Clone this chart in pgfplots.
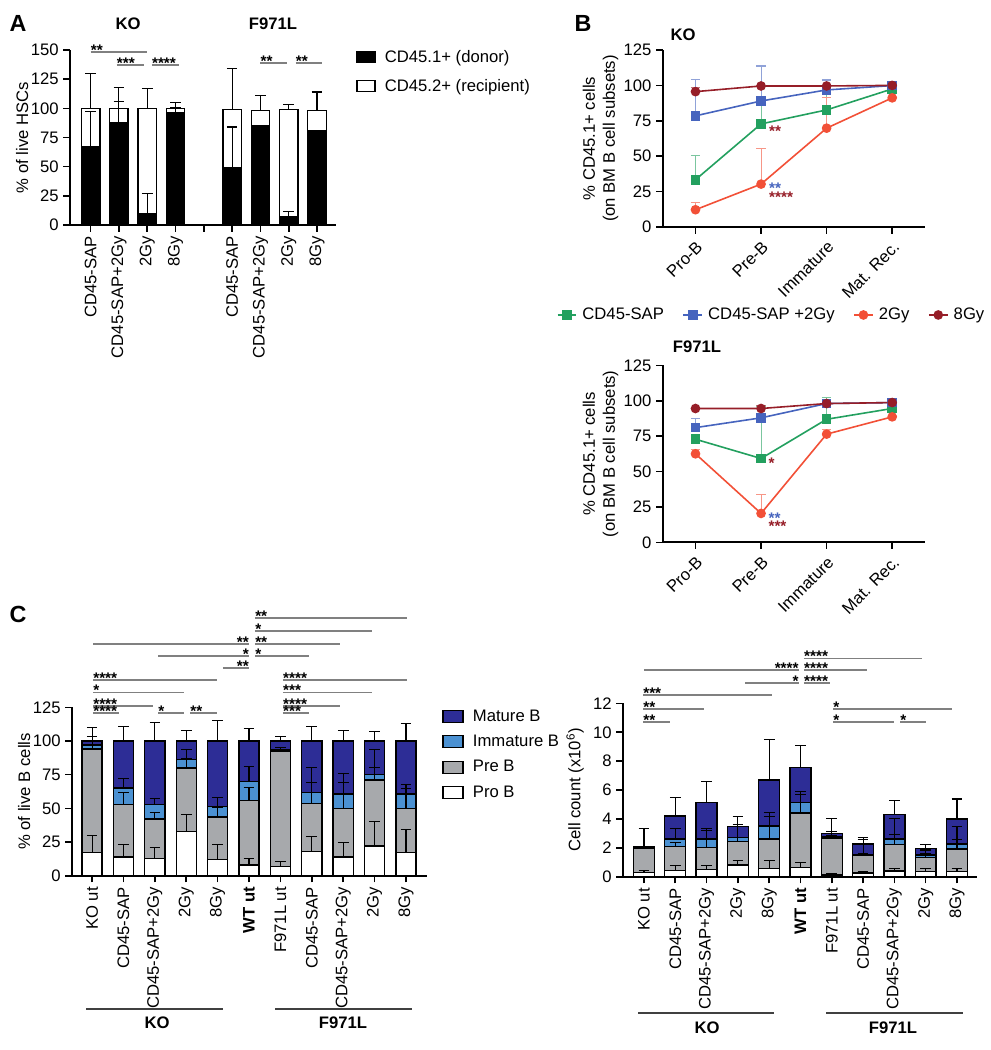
\documentclass[border=0pt]{standalone}
\usepackage{fontspec}
\setmainfont{Liberation Sans}
\usepackage{pgfplots}
\pgfplotsset{compat=1.18}
\definecolor{cgreen}{RGB}{35,160,95}
\definecolor{cblue}{RGB}{70,100,190}
\definecolor{cred}{RGB}{242,80,55}
\definecolor{cdred}{RGB}{150,30,40}
\definecolor{mat}{RGB}{45,45,150}
\definecolor{imm}{RGB}{75,145,210}
\definecolor{pre}{RGB}{167,169,172}
\definecolor{sig}{RGB}{128,128,128}
\newcommand{\fs}{\fontsize{12.5}{15}\selectfont}
\pgfplotsset{
 prism/.style={scale only axis, axis lines*=left, axis line style={line width=1.5pt,-}, tick align=outside, major tick length=5pt, tick style={black, line width=1.2pt}, tick label style={font=\fs}, label style={font=\fs}, /pgf/number format/assume math mode=true, clip=false},
 errax/.style={scale only axis, hide axis, clip=false},
 eb/.style={draw=none, mark=none, error bars/.cd, y dir=plus, y explicit, error bar style={draw=black, line width=0.8pt}, error mark options={draw=black, line width=0.8pt, mark size=4pt, rotate=90}},
}
\tikzset{sigstar/.style={font=\bfseries\fontsize{11.5}{11.5}\selectfont, inner sep=0pt, yshift=-2.5pt},
 bstar/.style={font=\bfseries\fontsize{11.5}{11.5}\selectfont, inner sep=0pt, anchor=base west, yshift=-6.6pt}}
\newcommand{\sigL}[4]{\draw[sig, line width=1.3pt] (axis cs:#1,#3) -- (axis cs:#2,#3); \node[sigstar, anchor=base west] at (axis cs:#1,#3) {#4};}
\newcommand{\sigR}[4]{\draw[sig, line width=1.3pt] (axis cs:#1,#3) -- (axis cs:#2,#3); \node[sigstar, anchor=base east] at (axis cs:#2,#3) {#4};}
\begin{document}
\begin{tikzpicture}[x=0.75pt,y=-0.75pt]
\path[use as bounding box] (0,0) rectangle (991,1050);
% ---------------- Panel A
\begin{axis}[prism, at={(52.5pt,-168.75pt)}, anchor=south west, width=199.5pt, height=131.25pt,
 ybar stacked, bar width=0.65, xmin=-0.73, xmax=8.67, ymin=0, ymax=150,
 ytick={0,25,50,75,100,125,150}, xtick={0,...,8},
 xticklabels={CD45-SAP,CD45-SAP+2Gy,2Gy,8Gy,,CD45-SAP,CD45-SAP+2Gy,2Gy,8Gy},
 xticklabel style={rotate=90, anchor=east},
 ylabel={\% of live HSCs}, ylabel shift=-5pt,
 legend style={at={(1.06,1.03)}, anchor=north west, draw=none, fill=none, font=\fs, row sep=7pt, cells={anchor=west}, /tikz/every odd column/.append style={column sep=5pt}},
 legend image code/.code={\draw[#1, line width=1pt] (0pt,-4pt) rectangle (13.5pt,4pt);}]
\addplot[fill=black, draw=black, line width=1pt] coordinates {(0,67)(1,88)(2,10)(3,96)(5,49)(6,85)(7,7)(8,81)};
\addplot[fill=white, draw=black, line width=1pt] coordinates {(0,33)(1,12)(2,90)(3,4)(5,50)(6,13)(7,92)(8,17)};
\legend{CD45.1+ (donor), CD45.2+ (recipient)}
\sigL{0}{1.98}{148}{**}
\sigL{0.92}{1.88}{137}{***}
\sigL{2.16}{3.12}{137}{****}
\sigL{6.0}{6.95}{138.6}{**}
\sigL{7.24}{8.18}{138.6}{**}
\end{axis}
\begin{axis}[errax, at={(52.5pt,-168.75pt)}, anchor=south west, width=199.5pt, height=131.25pt, xmin=-0.73, xmax=8.67, ymin=0, ymax=150]
\addplot[eb] coordinates {(0,67) +- (0,30) (1,88) +- (0,18) (2,10) +- (0,17) (3,96) +- (0,5) (5,49) +- (0,35) (7,7) +- (0,4.4)};
\addplot[eb] coordinates {(0,100) +- (0,30) (1,100) +- (0,18) (2,100) +- (0,17) (3,100) +- (0,5) (5,99) +- (0,35) (6,98) +- (0,13) (7,99) +- (0,4) (8,98) +- (0,16)};
\end{axis}
\node[font=\bfseries\fontsize{17.5}{20}\selectfont] at (18,23) {A};
\node[font=\bfseries\fs] at (128,24) {KO};
\node[font=\bfseries\fs] at (273,24) {F971L};
% ---------------- Panel B KO
\begin{axis}[prism, at={(497.03pt,-170.25pt)}, anchor=south west, width=196.7pt, height=132.75pt,
 xmin=-0.5, xmax=3.5, ymin=0, ymax=125, ytick={0,25,50,75,100,125}, xtick={0,1,2,3},
 xticklabels={Pro-B,Pre-B,Immature,Mat. Rec.}, xticklabel style={rotate=45, anchor=north east},
 ylabel={\% CD45.1+ cells\\(on BM B cell subsets)}, ylabel style={align=center}, ylabel shift=-3pt,
 legend columns=4,
 legend style={at={(-0.42,-0.497)}, anchor=west, draw=none, fill=none, font=\fs, /tikz/every even column/.append style={column sep=12pt}, /tikz/every odd column/.append style={column sep=2pt}},
 legend image code/.code={\draw[mark repeat=2, mark phase=2, #1] plot coordinates {(0pt,0pt) (7pt,0pt) (14pt,0pt)};}]
\addplot[cgreen, line width=1.2pt, mark=square*, mark size=3pt, mark options={solid}, error bars/.cd, y dir=plus, y explicit, error bar style={cgreen!60, line width=0.8pt}, error mark options={cgreen!60, line width=0.8pt, mark size=3.5pt, rotate=90}]
 coordinates {(0,33.4) +- (0,17.1) (1,72.8) +- (0,16) (2,82.7) +- (0,21.3) (3,97.5) +- (0,1)};
\addplot[cblue, line width=1.2pt, mark=square*, mark size=3pt, error bars/.cd, y dir=plus, y explicit, error bar style={cblue!60, line width=0.8pt}, error mark options={cblue!60, line width=0.8pt, mark size=3.5pt, rotate=90}]
 coordinates {(0,78.5) +- (0,25.8) (1,89) +- (0,24.7) (2,96.8) +- (0,7) (3,99.9) +- (0,0.5)};
\addplot[cred, line width=1.2pt, mark=*, mark size=3pt, error bars/.cd, y dir=plus, y explicit, error bar style={cred!60, line width=0.8pt}, error mark options={cred!60, line width=0.8pt, mark size=3.5pt, rotate=90}]
 coordinates {(0,12.2) +- (0,5.4) (1,30.3) +- (0,24.9) (2,69.8) +- (0,21.6) (3,91.2) +- (0,1)};
\addplot[cdred, line width=1.2pt, mark=*, mark size=3pt, error bars/.cd, y dir=plus, y explicit, error bar style={cdred!60, line width=0.8pt}, error mark options={cdred!60, line width=0.8pt, mark size=3.5pt, rotate=90}]
 coordinates {(0,95.6) +- (0,3.1) (1,99.6) +- (0,0.5) (2,99.6) +- (0,0.5) (3,100) +- (0,0.5)};
\legend{CD45-SAP, CD45-SAP +2Gy, 2Gy, 8Gy}
\node[bstar, text=cdred] at (axis cs:1.12,70) {**};
\node[bstar, text=cblue] at (axis cs:1.12,29.8) {**};
\node[bstar, text=cdred] at (axis cs:1.12,23.5) {****};
\end{axis}
% ---------------- Panel B F971L
\begin{axis}[prism, at={(497.03pt,-406.73pt)}, anchor=south west, width=196.7pt, height=132.75pt,
 xmin=-0.5, xmax=3.5, ymin=0, ymax=125, ytick={0,25,50,75,100,125}, xtick={0,1,2,3},
 xticklabels={Pro-B,Pre-B,Immature,Mat. Rec.}, xticklabel style={rotate=45, anchor=north east},
 ylabel={\% CD45.1+ cells\\(on BM B cell subsets)}, ylabel style={align=center}, ylabel shift=-3pt]
\addplot[cgreen, line width=1.2pt, mark=square*, mark size=3pt, error bars/.cd, y dir=plus, y explicit, error bar style={cgreen!60, line width=0.8pt}, error mark options={cgreen!60, line width=0.8pt, mark size=3.5pt, rotate=90}]
 coordinates {(0,72.8) +- (0,3) (1,59.2) +- (0,37) (2,86.9) +- (0,15.3) (3,94.5) +- (0,2)};
\addplot[cblue, line width=1.2pt, mark=square*, mark size=3pt, error bars/.cd, y dir=plus, y explicit, error bar style={cblue!60, line width=0.8pt}, error mark options={cblue!60, line width=0.8pt, mark size=3.5pt, rotate=90}]
 coordinates {(0,81) +- (0,6.4) (1,87.9) +- (0,8.9) (2,98) +- (0,3) (3,98.7) +- (0,1)};
\addplot[cred, line width=1.2pt, mark=*, mark size=3pt, error bars/.cd, y dir=plus, y explicit, error bar style={cred!60, line width=0.8pt}, error mark options={cred!60, line width=0.8pt, mark size=3.5pt, rotate=90}]
 coordinates {(0,62.5) +- (0,3) (1,20.4) +- (0,13.6) (2,76.4) +- (0,3) (3,88.6) +- (0,1)};
\addplot[cdred, line width=1.2pt, mark=*, mark size=3pt, error bars/.cd, y dir=plus, y explicit, error bar style={cdred!60, line width=0.8pt}, error mark options={cdred!60, line width=0.8pt, mark size=3.5pt, rotate=90}]
 coordinates {(0,94.5) +- (0,1) (1,94.5) +- (0,2) (2,98) +- (0,1) (3,98.7) +- (0,1)};
\node[bstar, text=cdred] at (axis cs:1.11,58.5) {*};
\node[bstar, text=cblue] at (axis cs:1.11,19.3) {**};
\node[bstar, text=cdred] at (axis cs:1.11,14.1) {***};
\end{axis}
\node[font=\bfseries\fontsize{17.5}{20}\selectfont] at (583,23) {B};
\node[font=\bfseries\fs] at (683,35) {KO};
\node[font=\bfseries\fs] at (697,347) {F971L};
% ---------------- Panel C left
\begin{axis}[prism, at={(54pt,-656.78pt)}, anchor=south west, width=266.25pt, height=126.3pt,
 ybar stacked, bar width=0.64, xmin=-0.64, xmax=10.67, ymin=0, ymax=125,
 ytick={0,25,50,75,100,125}, xtick={0,...,10},
 xticklabels={KO ut,CD45-SAP,CD45-SAP+2Gy,2Gy,8Gy,\textbf{WT ut},F971L ut,CD45-SAP,CD45-SAP+2Gy,2Gy,8Gy},
 xticklabel style={rotate=90, anchor=east},
 ylabel={\% of live B cells}, ylabel shift=-5pt, reverse legend,
 legend style={at={(1.031,1.02)}, anchor=north west, draw=none, fill=none, font=\fs, row sep=5pt, cells={anchor=west}, /tikz/every odd column/.append style={column sep=5pt}},
 legend image code/.code={\draw[#1, line width=1pt] (0pt,-4.5pt) rectangle (15pt,4.5pt);}]
\addplot[fill=white, draw=black, line width=1pt] coordinates {(0,17)(1,14)(2,13)(3,33)(4,12)(5,8)(6,7)(7,18)(8,14)(9,22)(10,17)};
\addplot[fill=pre, draw=black, line width=1pt] coordinates {(0,77)(1,39)(2,29)(3,47)(4,31.5)(5,48)(6,85)(7,35.7)(8,36)(9,49)(10,33)};
\addplot[fill=imm, draw=black, line width=1pt] coordinates {(0,3)(1,12)(2,11)(3,6.5)(4,8)(5,14)(6,1.4)(7,8.3)(8,10.6)(9,4)(10,10.6)};
\addplot[fill=mat, draw=black, line width=1pt] coordinates {(0,3)(1,35)(2,47)(3,13.5)(4,48.5)(5,30)(6,6.6)(7,38)(8,39.4)(9,25)(10,39.4)};
\legend{Pro B, Pre B, Immature B, Mature B}
\sigL{0.03}{0.86}{121}{****}
\sigL{0.03}{1.94}{126.2}{****}
\sigL{0.03}{2.93}{135.9}{*}
\sigL{0.03}{3.98}{145.3}{****}
\sigL{2.1}{2.93}{121}{*}
\sigL{3.12}{3.98}{121}{**}
\sigR{4.17}{5.0}{154.2}{**}
\sigR{2.1}{5.0}{163.1}{*}
\sigR{0.03}{5.0}{172}{**}
\sigL{5.19}{6.91}{163.1}{*}
\sigL{5.19}{7.9}{172}{**}
\sigL{5.19}{8.92}{181.7}{*}
\sigL{5.19}{10.03}{191.5}{**}
\sigL{6.08}{6.91}{121}{***}
\sigL{6.08}{7.9}{126.2}{****}
\sigL{6.08}{8.92}{135.9}{***}
\sigL{6.08}{10.03}{145.3}{****}
\end{axis}
\begin{axis}[errax, at={(54pt,-656.78pt)}, anchor=south west, width=266.25pt, height=126.3pt, xmin=-0.64, xmax=10.67, ymin=0, ymax=125]
\addplot[eb] coordinates {(0,17) +- (0,13) (1,14) +- (0,9) (2,13) +- (0,8) (3,33) +- (0,12.5) (4,12) +- (0,11.5) (5,8) +- (0,4.5) (6,7) +- (0,3.4) (7,18) +- (0,11) (8,14) +- (0,11) (9,22) +- (0,18) (10,17) +- (0,17)};
\addplot[eb] coordinates {(0,94) +- (0,3) (1,53) +- (0,9) (2,42) +- (0,5) (3,80) +- (0,7) (4,43.5) +- (0,7) (5,56) +- (0,9.6) (6,92) +- (0,1.5) (7,53.7) +- (0,15.3) (8,50) +- (0,19) (9,71) +- (0,9) (10,50) +- (0,15)};
\addplot[eb] coordinates {(0,97) +- (0,6) (1,65) +- (0,7.5) (2,53) +- (0,4) (3,86.5) +- (0,7.5) (4,51.5) +- (0,6.5) (5,70) +- (0,11) (6,93.4) +- (0,1.6) (7,62) +- (0,18) (8,60.6) +- (0,15) (9,75) +- (0,19) (10,60.6) +- (0,7.4)};
\addplot[eb] coordinates {(0,100) +- (0,10) (1,100) +- (0,11) (2,100) +- (0,14) (3,100) +- (0,8) (4,100) +- (0,15) (5,100) +- (0,9) (6,100) +- (0,3) (7,100) +- (0,11) (8,100) +- (0,8) (9,100) +- (0,7) (10,100) +- (0,13)};
\end{axis}
\node[font=\bfseries\fontsize{17.5}{20}\selectfont] at (18,614) {C};
\draw[black!75, line width=1pt] (86,1009) -- (223,1009);
\node[font=\bfseries\fs] at (157,1023) {KO};
\draw[black!75, line width=1pt] (275,1009) -- (412,1009);
\node[font=\bfseries\fs] at (343,1023) {F971L};
% ---------------- Panel C right
\begin{axis}[prism, at={(467.25pt,-657.53pt)}, anchor=south west, width=265.5pt, height=130pt,
 ybar stacked, bar width=0.67, xmin=-0.67, xmax=10.64, ymin=0, ymax=12,
 ytick={0,2,4,6,8,10,12}, xtick={0,...,10},
 xticklabels={KO ut,CD45-SAP,CD45-SAP+2Gy,2Gy,8Gy,\textbf{WT ut},F971L ut,CD45-SAP,CD45-SAP+2Gy,2Gy,8Gy},
 xticklabel style={rotate=90, anchor=east},
 ylabel={Cell count (x10\textsuperscript{6})}]
\addplot[fill=white, draw=black, line width=1pt] coordinates {(0,0.3)(1,0.45)(2,0.5)(3,0.8)(4,0.58)(5,0.62)(6,0.12)(7,0.25)(8,0.4)(9,0.35)(10,0.35)};
\addplot[fill=pre, draw=black, line width=1pt] coordinates {(0,1.65)(1,1.63)(2,1.53)(3,1.62)(4,2.02)(5,3.78)(6,2.53)(7,1.2)(8,1.84)(9,0.99)(10,1.57)};
\addplot[fill=imm, draw=black, line width=1pt] coordinates {(0,0.05)(1,0.52)(2,0.57)(3,0.3)(4,0.9)(5,0.75)(6,0.1)(7,0.1)(8,0.36)(9,0.16)(10,0.34)};
\addplot[fill=mat, draw=black, line width=1pt] coordinates {(0,0.05)(1,1.6)(2,2.52)(3,0.74)(4,3.2)(5,2.4)(6,0.25)(7,0.71)(8,1.72)(9,0.46)(10,1.74)};
\sigL{-0.03}{0.83}{10.73}{**}
\sigL{-0.03}{1.92}{11.6}{**}
\sigL{-0.03}{4.09}{12.57}{***}
\sigR{3.23}{4.95}{13.43}{*}
\sigR{0}{4.95}{14.3}{****}
\sigL{5.11}{5.94}{13.43}{****}
\sigL{5.11}{7.12}{14.3}{****}
\sigL{5.11}{8.88}{15.1}{****}
\sigL{6.04}{7.99}{10.73}{*}
\sigL{8.18}{9.0}{10.73}{*}
\sigL{6.04}{9.84}{11.6}{*}
\end{axis}
\begin{axis}[errax, at={(467.25pt,-657.53pt)}, anchor=south west, width=265.5pt, height=130pt, xmin=-0.67, xmax=10.64, ymin=0, ymax=12]
\addplot[eb] coordinates {(0,0.3) +- (0,0.16) (1,0.45) +- (0,0.3) (2,0.5) +- (0,0.3) (3,0.8) +- (0,0.35) (4,0.58) +- (0,0.57) (5,0.62) +- (0,0.38) (6,0.12) +- (0,0.13) (7,0.25) +- (0,0.1) (8,0.4) +- (0,0.2) (9,0.35) +- (0,0.25) (10,0.35) +- (0,0.2)};
\addplot[eb] coordinates {(0,1.95) +- (0,0.1) (1,2.08) +- (0,0.32) (2,2.03) +- (0,1.17) (3,2.42) +- (0,0.28) (4,2.6) +- (0,1.55) (5,4.4) +- (0,1.3) (6,2.65) +- (0,0.2) (7,1.45) +- (0,0.15) (8,2.24) +- (0,0.66) (9,1.34) +- (0,0.26) (10,1.92) +- (0,0.63)};
\addplot[eb] coordinates {(0,2.0) +- (0,0.08) (1,2.6) +- (0,0.75) (2,2.6) +- (0,0.75) (3,2.72) +- (0,0.88) (4,3.5) +- (0,0.95) (5,5.15) +- (0,0.75) (6,2.75) +- (0,0.35) (7,1.55) +- (0,1.0) (8,2.6) +- (0,1.4) (9,1.5) +- (0,0.35) (10,2.26) +- (0,1.2)};
\addplot[eb] coordinates {(0,2.05) +- (0,1.3) (1,4.2) +- (0,1.3) (2,5.12) +- (0,1.5) (3,3.46) +- (0,0.74) (4,6.7) +- (0,2.83) (5,7.55) +- (0,1.52) (6,3.0) +- (0,1.05) (7,2.26) +- (0,0.44) (8,4.32) +- (0,0.93) (9,1.96) +- (0,0.24) (10,4.0) +- (0,1.38)};
\end{axis}
\draw[black!75, line width=1pt] (638,1013) -- (774,1013);
\node[font=\bfseries\fs] at (707,1028) {KO};
\draw[black!75, line width=1pt] (826,1013) -- (963,1013);
\node[font=\bfseries\fs] at (893,1028) {F971L};
\end{tikzpicture}
\end{document}
